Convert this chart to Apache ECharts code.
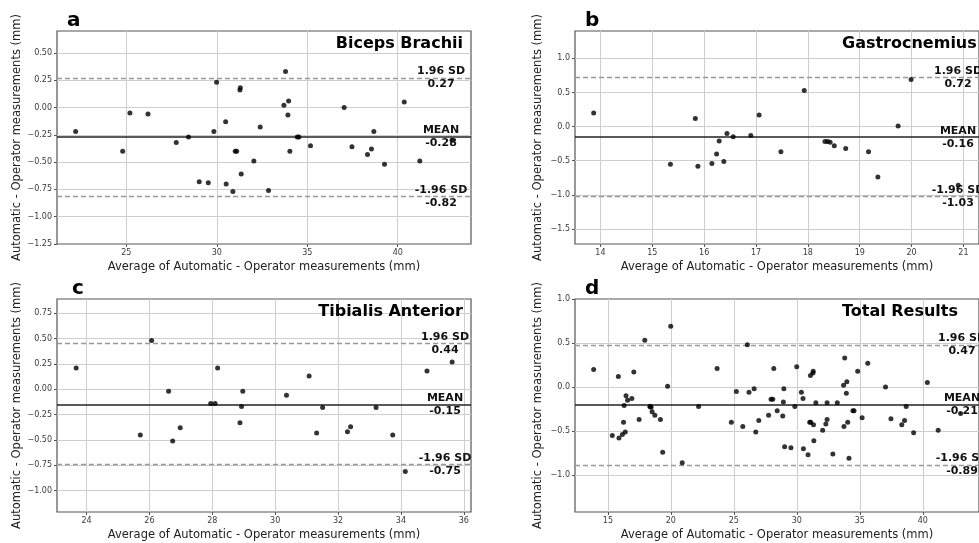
<!DOCTYPE html>
<html>
<head>
<meta charset="utf-8">
<style>
  html, body { margin: 0; padding: 0; background: #fff; }
  #chart { width: 979px; height: 543px; }
</style>
<script src="https://cdn.jsdelivr.net/npm/echarts@6/dist/echarts.min.js"></script>
</head>
<body>
<div id="chart"></div>
<script>
// [average, difference] per muscle
const bicepsPoints = [
  [22.2, -0.22], [24.8, -0.40], [25.2, -0.05], [26.2, -0.06], [27.76, -0.32], [28.44, -0.27],
  [29.03, -0.68], [29.53, -0.69], [29.84, -0.22], [29.99, 0.23], [30.49, -0.13], [30.52, -0.70],
  [30.89, -0.77], [31.02, -0.40], [31.1, -0.40], [31.28, 0.16], [31.3, 0.18], [31.35, -0.61],
  [32.05, -0.49], [32.4, -0.18], [32.86, -0.76], [33.71, 0.02], [33.97, 0.06], [33.93, -0.07],
  [34.04, -0.40], [33.8, 0.33], [34.45, -0.27], [34.54, -0.27], [35.18, -0.35], [37.04, 0.00],
  [37.47, -0.36], [38.33, -0.43], [38.55, -0.38], [38.68, -0.22], [39.27, -0.52], [40.36, 0.05],
  [41.22, -0.49], [43.0, -0.30]
]
const gastroPoints = [
  [13.87, 0.20], [15.35, -0.55], [15.83, 0.12], [15.88, -0.58], [16.15, -0.54], [16.24, -0.40],
  [16.29, -0.21], [16.38, -0.51], [16.44, -0.10], [16.56, -0.15], [16.9, -0.13], [17.06, 0.17],
  [17.48, -0.37], [17.93, 0.53], [18.33, -0.22], [18.38, -0.22], [18.43, -0.23], [18.51, -0.28],
  [18.73, -0.32], [19.17, -0.37], [19.35, -0.74], [19.74, 0.01], [19.99, 0.69], [20.9, -0.86]
]
const tibialisPoints = [
  [23.67, 0.21], [25.71, -0.45], [26.07, 0.48], [26.61, -0.02], [26.74, -0.51], [26.98, -0.38],
  [27.95, -0.14], [28.09, -0.14], [28.17, 0.21], [28.88, -0.33], [28.93, -0.17], [28.97, -0.02],
  [30.36, -0.06], [31.08, 0.13], [31.32, -0.43], [31.51, -0.18], [32.3, -0.42], [32.4, -0.37],
  [33.21, -0.18], [33.74, -0.45], [34.14, -0.81], [34.83, 0.18], [35.63, 0.27]
]
const totalPoints = bicepsPoints.concat(gastroPoints, tibialisPoints)

const panelPoints = [bicepsPoints, gastroPoints, tibialisPoints, totalPoints]
const panelTitles = ['Biceps Brachii', 'Gastrocnemius', 'Tibialis Anterior', 'Total Results']
const panelLetters = ['a', 'b', 'c', 'd']

const meanLines = [-0.27, -0.155, -0.15, -0.2]
const upperLines = [0.273, 0.72, 0.445, 0.477]
const lowerLines = [-0.813, -1.025, -0.745, -0.885]
const meanLabels = ['-0.28', '-0.16', '-0.15', '-0.21']
const upperLabels = ['0.27', '0.72', '0.44', '0.47']
const lowerLabels = ['-0.82', '-1.03', '-0.75', '-0.89']

const xTicks = [
  [25, 30, 35, 40],
  [14, 15, 16, 17, 18, 19, 20, 21],
  [24, 26, 28, 30, 32, 34, 36],
  [15, 20, 25, 30, 35, 40]
]
const yTicks = [
  [-1.25, -1.0, -0.75, -0.5, -0.25, 0, 0.25, 0.5],
  [-1.5, -1.0, -0.5, 0, 0.5, 1.0],
  [-1.0, -0.75, -0.5, -0.25, 0, 0.25, 0.5, 0.75],
  [-1.0, -0.5, 0, 0.5, 1.0]
]
const yDecimals = [2, 1, 2, 1]
const xRanges = [[21.17, 44.05], [13.51, 21.3], [23.06, 36.23], [12.39, 44.46]]
const yRanges = [[-1.25, 0.70], [-1.72, 1.40], [-1.21, 0.89], [-1.42, 1.0]]

const grids = [
  { left: 57, top: 31, width: 414, height: 213 },
  { left: 575, top: 31, width: 416, height: 213 },
  { left: 57, top: 299, width: 414, height: 213 },
  { left: 575, top: 299, width: 414, height: 213 }
]
const labelOffsets = [384, 383, 388, 387]

const FONT = '"DejaVu Sans", sans-serif'
const minus = s => String(s).replace('-', '\u2212')

const chart = echarts.init(document.getElementById('chart'))

const gridStyle = { color: '#cecece', width: 1, type: 'solid' }
const dashStyle = { color: '#999', width: 1.3, type: [5, 3] }
const meanStyle = { color: '#222', width: 1.5, type: 'solid' }

const option = {
  animation: false,
  backgroundColor: '#fff',
  grid: grids.map(g => ({ ...g, show: true, borderColor: '#555', borderWidth: 1.2, backgroundColor: 'transparent' })),
  xAxis: grids.map((g, i) => ({
    type: 'value',
    gridIndex: i,
    min: xRanges[i][0],
    max: xRanges[i][1],
    name: 'Average of Automatic - Operator measurements (mm)',
    nameLocation: 'middle',
    nameGap: 17,
    nameTextStyle: { fontFamily: FONT, fontSize: 11.5, color: '#222', verticalAlign: 'top' },
    axisLine: { show: false, onZero: false },
    axisTick: { show: true, length: 3, lineStyle: { color: '#555' }, customValues: xTicks[i] },
    axisLabel: {
      customValues: xTicks[i],
      fontFamily: FONT, fontSize: 8, color: '#3a3a3a', margin: 5,
      formatter: v => String(Math.round(v))
    },
    splitLine: { show: false }
  })),
  yAxis: grids.map((g, i) => ({
    type: 'value',
    gridIndex: i,
    min: yRanges[i][0],
    max: yRanges[i][1],
    name: 'Automatic - Operator measurements (mm)',
    nameLocation: 'middle',
    nameGap: i % 2 === 0 ? 34 : 31,
    nameTextStyle: { fontFamily: FONT, fontSize: 11.5, color: '#222' },
    axisLine: { show: false, onZero: false },
    axisTick: { show: true, length: 3, lineStyle: { color: '#555' }, customValues: yTicks[i] },
    axisLabel: {
      customValues: yTicks[i],
      fontFamily: FONT, fontSize: 8, color: '#3a3a3a', margin: 5,
      formatter: v => minus(v.toFixed(yDecimals[i]))
    },
    splitLine: { show: false }
  })),
  series: panelPoints.map((pts, i) => ({
    type: 'scatter',
    xAxisIndex: i,
    yAxisIndex: i,
    data: pts,
    symbolSize: 5,
    itemStyle: { color: '#000' },
    z: 5,
    markLine: {
      silent: true,
      symbol: 'none',
      label: { show: false },
      z: 3,
      data: [
        // grid lines first so they sit underneath
        ...xTicks[i].filter(v => v <= xRanges[i][1]).map(v => ({ xAxis: v, lineStyle: gridStyle })),
        ...yTicks[i].filter(v => v > yRanges[i][0] && v < yRanges[i][1]).map(v => ({ yAxis: v, lineStyle: gridStyle })),
        { yAxis: upperLines[i], lineStyle: dashStyle },
        { yAxis: lowerLines[i], lineStyle: dashStyle },
        { yAxis: meanLines[i], lineStyle: meanStyle }
      ]
    }
  }))
}

chart.setOption(option)

// text annotations placed through the grid's own scales
const graphics = []
grids.forEach((g, i) => {
  const cx = g.left + labelOffsets[i]
  const py = v => chart.convertToPixel({ gridIndex: i }, [xRanges[i][0], v])[1]
  const bold = 'bold 11px ' + FONT
  const pairs = [
    [upperLines[i], '1.96 SD', upperLabels[i]],
    [meanLines[i], 'MEAN', meanLabels[i]],
    [lowerLines[i], '-1.96 SD', lowerLabels[i]]
  ]
  pairs.forEach(([v, top, bottom]) => {
    const y = py(v)
    graphics.push({ type: 'text', x: cx, y: y - 1, z: 100,
      style: { text: top, font: bold, fill: '#111', align: 'center', verticalAlign: 'bottom' } })
    graphics.push({ type: 'text', x: cx, y: y + 1, z: 100,
      style: { text: bottom, font: bold, fill: '#111', align: 'center', verticalAlign: 'top' } })
  })
  const right = i % 2 === 0
  graphics.push({ type: 'text', z: 100,
    x: right ? g.left + g.width - 8 : g.left + 267,
    y: g.top + 13,
    style: { text: panelTitles[i], font: 'bold 16px ' + FONT, fill: '#000',
      align: right ? 'right' : 'left', verticalAlign: 'middle' } })
  graphics.push({ type: 'text', z: 100,
    x: g.left + 10 + (i === 2 ? 5 : 0),
    y: g.top,
    style: { text: panelLetters[i], font: 'bold 20px ' + FONT, fill: '#000',
      align: 'left', verticalAlign: 'bottom' } })
})
chart.setOption({ graphic: graphics })
</script>
</body>
</html>
